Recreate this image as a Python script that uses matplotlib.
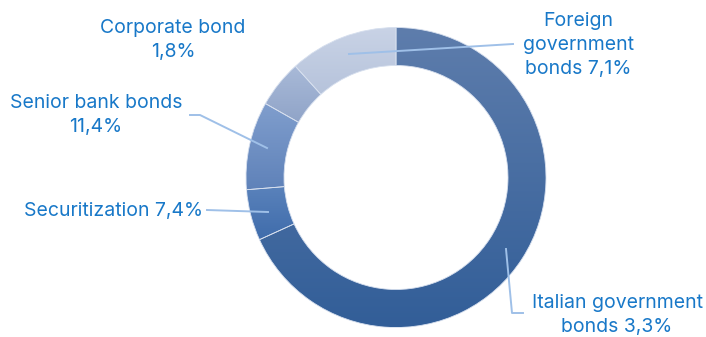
import numpy as np
import matplotlib
matplotlib.use("Agg")
import matplotlib.pyplot as plt
from matplotlib.colors import to_rgb

W, H = 706, 337

# slice shares read from the ring (clockwise from 12 o'clock)
slices = ["Italian government bonds", "Securitization", "Senior bank bonds",
          "Corporate bond", "Foreign government bonds"]
shares = [68.2, 5.5, 9.5, 5.1, 11.7]
labels = ["Italian government\nbonds 3,3%", "Securitization 7,4%",
          "Senior bank bonds\n11,4%", "Corporate bond\n1,8%",
          "Foreign\ngovernment\nbonds 7,1%"]
# (top colour, bottom colour) of each slice's gradient
grads = [("#5e7dac", "#325e98"), ("#5a82bb", "#3f6cab"), ("#809ecd", "#5f82b9"),
         ("#a9bad8", "#90a4c8"), ("#c9d3e6", "#b6c3db")]

text_col = "#1878c8"
line_col = "#9fc0e8"

plt.rcParams["font.family"] = ["Inter", "DejaVu Sans"]

fig = plt.figure(figsize=(W / 100, H / 100), dpi=100)
ax = fig.add_axes([0, 0, 1, 1])
ax.axis("off")

def Y(y):
    return H - y

cx, cy, R, ring = 396, Y(177.5), 150, 38
wedges, _ = ax.pie(shares, startangle=90, counterclock=False, radius=R,
                   center=(cx, cy), wedgeprops=dict(width=ring))

for w, (top, bot) in zip(wedges, grads):
    th = np.radians(np.linspace(w.theta1, w.theta2, 200))
    ys = np.concatenate([cy + R * np.sin(th), cy + (R - ring) * np.sin(th)])
    xs = np.concatenate([cx + R * np.cos(th), cx + (R - ring) * np.cos(th)])
    t = np.linspace(0, 1, 256)[:, None]
    img = (1 - t) * np.array(to_rgb(bot)) + t * np.array(to_rgb(top))
    img = img[:, None, :]
    im = ax.imshow(img, extent=[xs.min(), xs.max(), ys.min(), ys.max()],
                   origin="lower", aspect="auto", interpolation="bilinear", zorder=1)
    im.set_clip_path(w)
    w.set_facecolor("none")
    w.set_edgecolor("#d6dfee")
    w.set_linewidth(0.6)
    w.set_zorder(2)

# leader lines
lw = 1.4
ax.plot([349, 513], [Y(54), Y(44)], color=line_col, lw=lw, zorder=3)
ax.plot([190, 200, 267], [Y(115), Y(115), Y(148)], color=line_col, lw=lw, zorder=3)
ax.plot([207, 268], [Y(210), Y(212)], color=line_col, lw=lw, zorder=3)
ax.plot([506, 512, 523], [Y(249), Y(313), Y(313)], color=line_col, lw=lw, zorder=3)

fs = 14
kw = dict(color=text_col, fontsize=fs, ha="center", va="center", linespacing=1.45)
ax.text(617, Y(315), labels[0], **kw)
ax.text(113, Y(211), labels[1], **kw)
ax.text(96, Y(115), labels[2], **kw)
ax.text(173, Y(40), labels[3], **kw)
ax.text(578, Y(45), labels[4], **kw)

ax.set_xlim(0, W)
ax.set_ylim(0, H)
fig.savefig("out.png", dpi=100)
